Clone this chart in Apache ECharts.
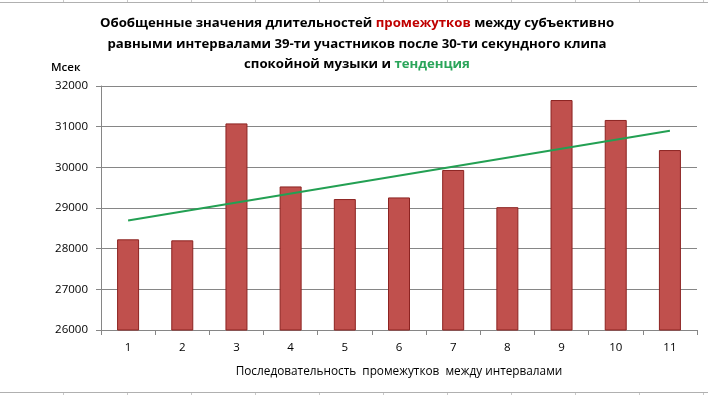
<!DOCTYPE html>
<html><head><meta charset="utf-8">
<script src="https://cdn.jsdelivr.net/npm/echarts@6/dist/echarts.min.js"></script>
<style>html,body{margin:0;padding:0;background:#fff}#c{width:708px;height:395px}</style>
</head><body><div id="c"></div>
<script>
const categories = ['1','2','3','4','5','6','7','8','9','10','11'];
const values = [28230, 28205, 31080, 29530, 29220, 29260, 29935, 29020, 31655, 31165, 30425];
const trend = [28690, null, null, null, null, null, null, null, null, null, 30900];
const yTicks = {min: 26000, max: 32000, interval: 1000};
const FONT = 'Open Sans';
const chart = echarts.init(document.getElementById('c'));
const W = 708, H = 395;
const border = [
  {type: 'line', shape: {x1: 0, y1: 2.5, x2: W, y2: 2.5}, style: {stroke: '#b0b0b0', lineWidth: 1}},
  {type: 'line', shape: {x1: 0, y1: 392.5, x2: W, y2: 392.5}, style: {stroke: '#b0b0b0', lineWidth: 1}}
];
for (let x = 63.5; x < W; x += 64) {
  border.push({type: 'line', shape: {x1: x, y1: 0, x2: x, y2: 2}, style: {stroke: '#c8c8c8', lineWidth: 1}});
  border.push({type: 'line', shape: {x1: x, y1: 393, x2: x, y2: H}, style: {stroke: '#c8c8c8', lineWidth: 1}});
}
chart.setOption({
  animation: false,
  backgroundColor: '#fff',
  title: {
    text: 'Обобщенные значения длительностей {r|промежутков} между субъективно\nравными интервалами 39-ти участников после 30-ти секундного клипа\nспокойной музыки и {g|тенденция}',
    left: 352, textAlign: 'center', top: 8,
    textStyle: {
      fontFamily: FONT, fontSize: 13.2, fontWeight: 'bold', color: '#000', lineHeight: 20.5,
      rich: {
        r: {fontFamily: FONT, fontSize: 13.2, fontWeight: 'bold', color: '#c00000', lineHeight: 20.5},
        g: {fontFamily: FONT, fontSize: 13.2, fontWeight: 'bold', color: '#2aa55a', lineHeight: 20.5}
      }
    }
  },
  graphic: border.concat([
    {type: 'text', left: 51, top: 62, style: {text: 'Мсек', fontFamily: FONT, fontSize: 11.5, fontWeight: 600, fill: '#000'}}
  ]),
  grid: {left: 101, right: 11, top: 86, bottom: 65},
  xAxis: {
    type: 'category', data: categories,
    name: 'Последовательность  промежутков  между интервалами',
    nameLocation: 'middle', nameGap: 36,
    nameTextStyle: {fontFamily: FONT, fontSize: 11.8, color: '#000'},
    axisLine: {lineStyle: {color: '#868686'}},
    axisTick: {show: true, length: 5, lineStyle: {color: '#868686'}},
    axisLabel: {fontFamily: FONT, fontSize: 11.5, color: '#000', margin: 12}
  },
  yAxis: {
    type: 'value', min: yTicks.min, max: yTicks.max, interval: yTicks.interval,
    axisLine: {show: true, lineStyle: {color: '#868686'}},
    axisTick: {show: true, length: 5, lineStyle: {color: '#868686'}},
    axisLabel: {fontFamily: FONT, fontSize: 11.5, color: '#000', margin: 13, formatter: v => String(v)},
    splitLine: {lineStyle: {color: '#868686'}}
  },
  series: [
    {type: 'bar', data: values, barWidth: 22,
     itemStyle: {color: '#c0504d', borderColor: '#8c2321', borderWidth: 1}},
    {type: 'line', data: trend, connectNulls: true, symbol: 'none',
     lineStyle: {color: '#23a053', width: 2}}
  ]
});
</script></body></html>
